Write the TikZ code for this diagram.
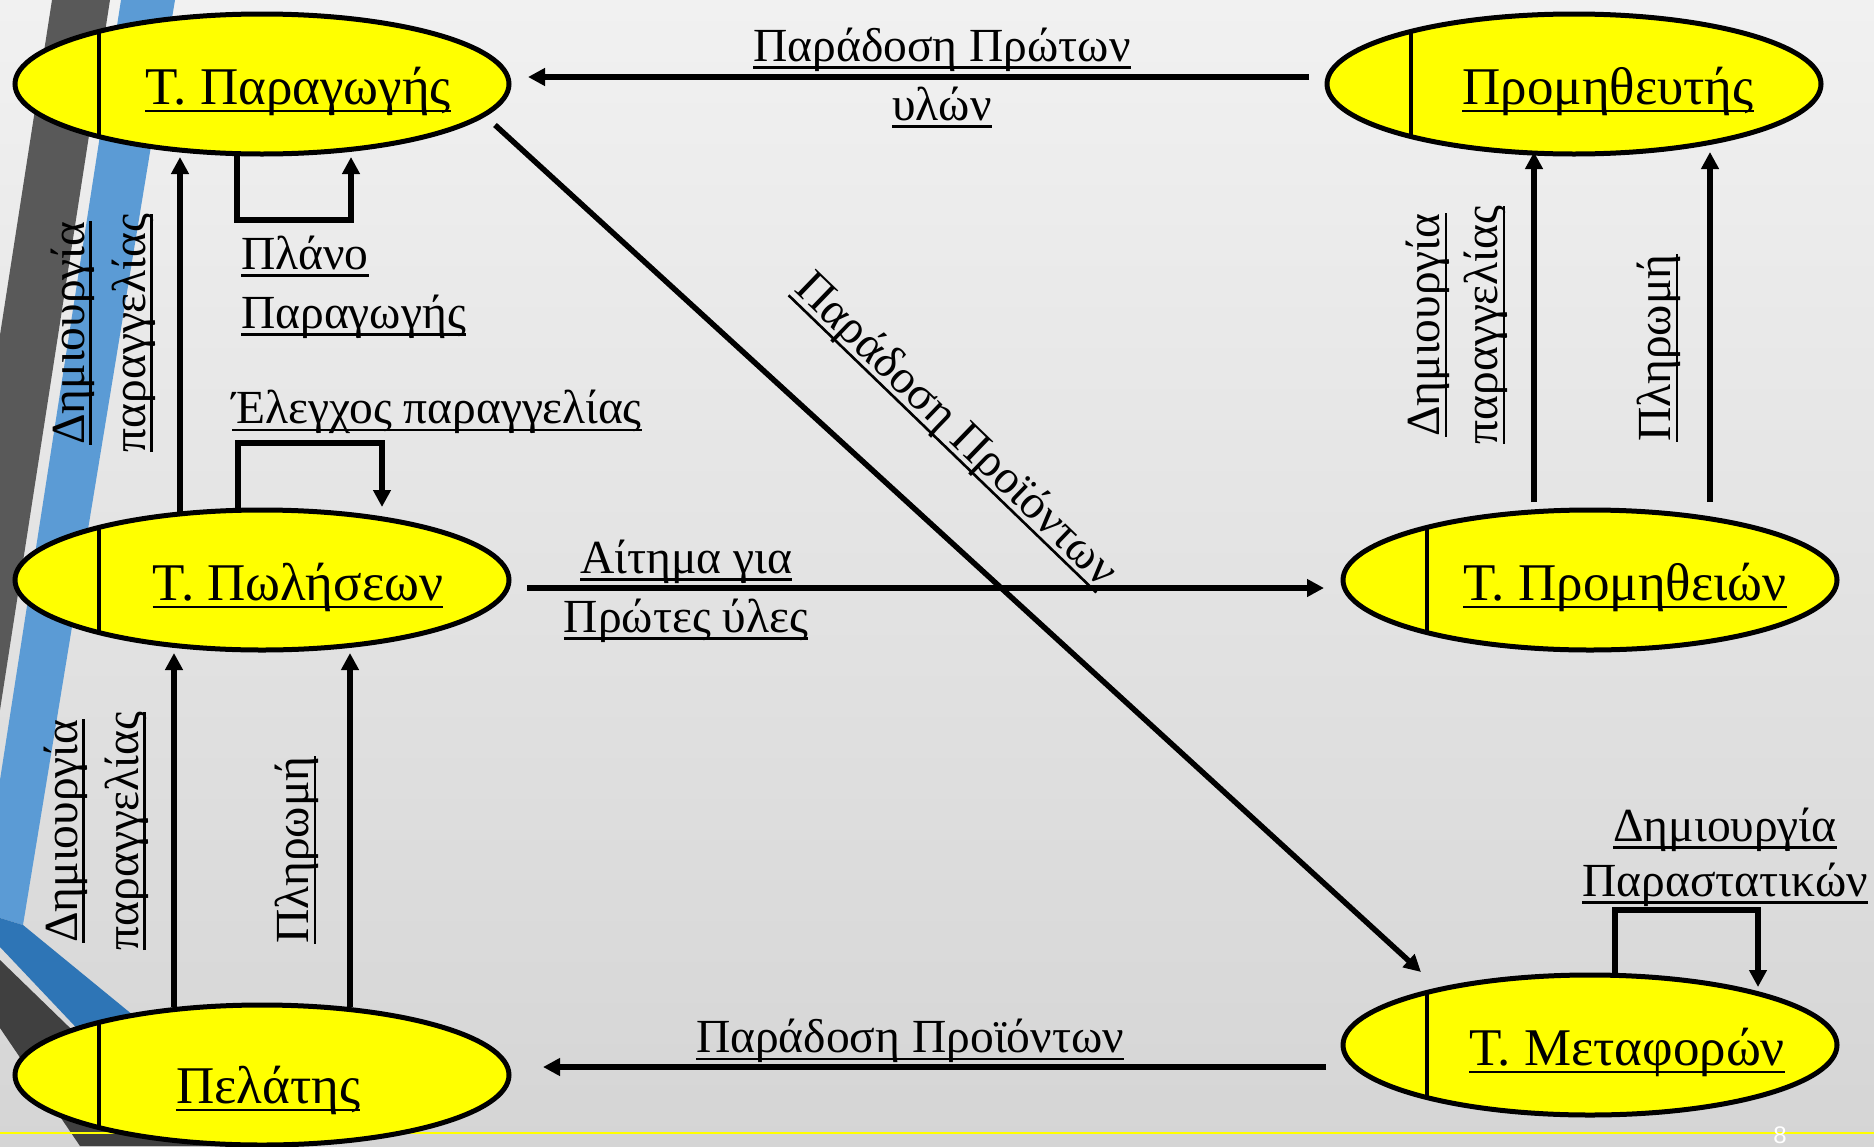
\documentclass[tikz,border=0pt]{standalone}
\usepackage{fontspec}
\setmainfont{Liberation Serif}
\newfontfamily\numfont{Liberation Sans}
\usetikzlibrary{arrows.meta,shapes.geometric}
\newsavebox\ulbox
\newcommand{\myul}[1]{\sbox\ulbox{#1}\rlap{\rule[-0.16em]{\wd\ulbox}{0.055em}}\usebox\ulbox}
\newcommand{\etext}[2]{\makebox[0pt]{\hspace{#1}\myul{#2}}}
\definecolor{bgtop}{HTML}{F1F1F1}
\definecolor{bgbot}{HTML}{D5D5D5}
\definecolor{stripedark}{HTML}{595959}
\definecolor{stripeblue}{HTML}{5B9BD5}
\definecolor{bandblue}{HTML}{2E75B6}
\definecolor{banddark}{HTML}{404040}
\definecolor{entyellow}{HTML}{FFFF00}
\begin{document}
\begin{tikzpicture}[x=1pt,y=-1pt,
  ent/.style={ellipse, draw=black, line width=5pt, fill=entyellow,
    minimum width=494pt, minimum height=140pt, inner sep=0pt, outer sep=0pt,
    font=\fontsize{53}{60}\selectfont, text height=52pt, text depth=12pt,
    path picture={\draw[line width=4pt] ([xshift=-163pt]path picture bounding box.north) -- ([xshift=-163pt]path picture bounding box.south);}},
  lbl/.style={inner sep=0pt, font=\fontsize{47.5}{59}\selectfont, align=center},
  arr/.style={line width=5.5pt, -{Triangle[length=17pt,width=17pt]}}
]
\useasboundingbox (0,0) rectangle (1874,1146);
% background
\fill[top color=bgtop, bottom color=bgbot] (0,0) rectangle (1874,1146);
\fill[stripedark] (52,0) -- (110,0) -- (0,710) -- (0,335) -- cycle;
\fill[stripeblue] (121,0) -- (175,0) -- (23,925) -- (0,918) -- (0,780) -- cycle;
\fill[bandblue] (0,918) -- (23,925) -- (200,1070) -- (140,1095) -- (0,947) -- cycle;
\fill[banddark] (0,960) -- (67,1025) -- (120,1076) -- (230,1076) -- (230,1146) -- (80,1146) -- (0,1028) -- cycle;
\draw[color=entyellow, line width=2.5pt] (0,1133) -- (1874,1133);
\node[font=\numfont\fontsize{24}{24}\selectfont, text=white, anchor=north, inner sep=0pt] (pg) at (1780,1127) {8};

% entities
\node[ent] (Prod) at (262,84) {\etext{72pt}{Τ. Παραγωγής}};
\node[ent] (Prom) at (1574,84) {\etext{68pt}{Προμηθευτής}};
\node[ent] (Sales) at (262,580) {\etext{72pt}{Τ. Πωλήσεων}};
\node[ent] (Supply) at (1590,580) {\etext{70pt}{Τ. Προμηθειών}};
\node[ent] (Trans) at (1590,1045) {\etext{74pt}{Τ. Μεταφορών}};
\node[ent, text height=62pt, text depth=6pt] (Cust) at (262,1075) {\etext{12pt}{Πελάτης}};

% connectors
\draw[arr] ([shift={(-265pt,7pt)}]Prom.center) -- ([shift={(266pt,7pt)}]Prod.center);
\draw[arr] ([shift={(265pt,-8pt)}]Sales.center) -- ([shift={(-266pt,-8pt)}]Supply.center);
\draw[arr] ([shift={(-264pt,-22pt)}]Trans.center) -- ([shift={(281pt,8pt)}]Cust.center);
\draw[arr] ([shift={(233pt,-41pt)}]Prod.center) -- ([shift={(-169pt,73pt)}]Trans.center);
\draw[arr] ([shift={(-82pt,68pt)}]Sales.center) -- ([shift={(-82pt,-73pt)}]Prod.center);
\draw[arr] ([shift={(-88pt,68pt)}]Cust.center) -- ([shift={(-88pt,-73pt)}]Sales.center);
\draw[arr] ([shift={(88pt,68pt)}]Cust.center) -- ([shift={(88pt,-73pt)}]Sales.center);
\draw[arr] ([shift={(-56pt,78pt)}]Supply.center) -- ([shift={(-40pt,-68pt)}]Prom.center);
\draw[arr] ([shift={(120pt,78pt)}]Supply.center) -- ([shift={(136pt,-68pt)}]Prom.center);
\draw[arr] ([shift={(-25pt,-70pt)}]Prod.center) -- ++(0,66) -| ([shift={(89pt,-73pt)}]Prod.center);
\draw[arr] ([shift={(-24pt,70pt)}]Sales.center) -- ++(0,-67) -| ([shift={(120pt,73pt)}]Sales.center);
\draw[arr] ([shift={(25pt,70pt)}]Trans.center) -- ++(0,-65) -| ([shift={(168pt,58pt)}]Trans.center);

% labels
\node[lbl] (L1) at (942,78) {\myul{Παράδοση Πρώτων}\\\myul{υλών}};
\node[lbl] (L2) at (437,412) {\myul{Έλεγχος παραγγελίας}};
\node[lbl, align=left, anchor=west] (L3) at (241,287) {\myul{Πλάνο}\\\myul{Παραγωγής}};
\node[lbl] (L4) at (686,591) {\myul{Αίτημα για}\\\myul{Πρώτες ύλες}};
\node[lbl, rotate=90, font=\fontsize{47.5}{61}\selectfont] (L5) at (103,333) {\myul{Δημιουργία}\\\myul{παραγγελίας}};
\node[lbl, rotate=90, font=\fontsize{47.5}{61}\selectfont] (L6) at (96,831) {\myul{Δημιουργία}\\\myul{παραγγελίας}};
\node[lbl, rotate=90] (L7) at (297,850) {\myul{Πληρωμή}};
\node[lbl, rotate=90, font=\fontsize{47.5}{58}\selectfont] (L8) at (1457,325) {\myul{Δημιουργία}\\\myul{παραγγελίας}};
\node[lbl, rotate=90] (L9) at (1659,348) {\myul{Πληρωμή}};
\node[lbl, font=\fontsize{47.5}{55}\selectfont] (L10) at (1725,857) {\myul{Δημιουργία}\\\myul{Παραστατικών}};
\node[lbl] (L11) at (910,1041) {\myul{Παράδοση Προϊόντων}};
\node[lbl, rotate=-44] (L12) at (955,431) {\myul{Παράδοση Προϊόντων}};
\end{tikzpicture}
\end{document}
